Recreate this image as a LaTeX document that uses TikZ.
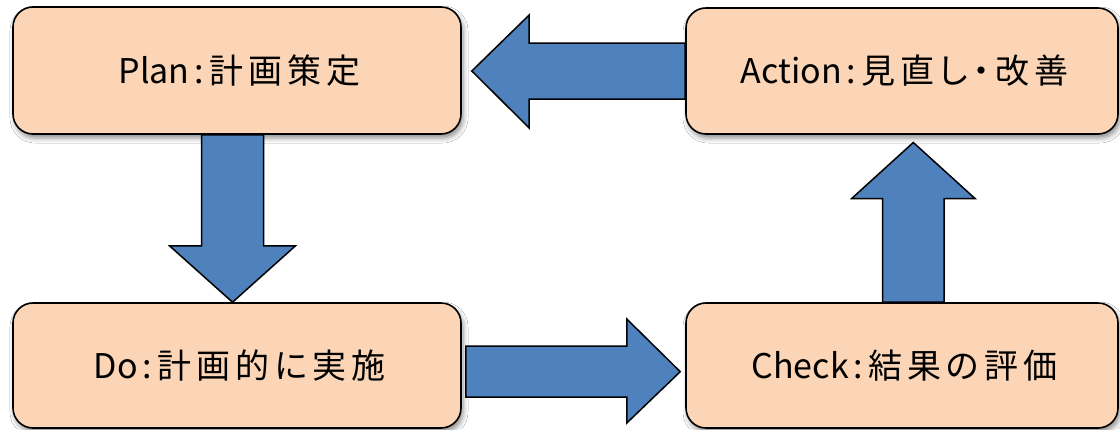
\documentclass[tikz,border=0pt]{standalone}
\usepackage{fontspec}
\setmainfont{Noto Sans CJK JP}
\newfontfamily\jp{Noto Sans CJK JP}[RawFeature=+palt, LetterSpace=15]
\usetikzlibrary{calc,shadows.blur}
\definecolor{boxfill}{HTML}{FBD5B5}
\definecolor{arrowfill}{HTML}{4F81BD}
\tikzset{
  stage/.style={draw=black, line width=1.6pt, fill=boxfill, rounded corners=20pt,
    inner sep=0pt, font=\fontsize{34}{40}\selectfont,
    blur shadow={shadow xshift=2pt, shadow yshift=-4pt, shadow blur radius=5pt, shadow opacity=45}},
  blockarrow/.style={draw=black, line width=1.5pt, fill=arrowfill, line join=miter}
}
\newcommand{\stagelabel}[2]{#1\kern5pt:\kern5pt{\jp #2}\kern-5pt}
\begin{document}
\begin{tikzpicture}[x=1pt,y=-1pt]
\fill[white] (0,0) rectangle (1120,429);
\useasboundingbox (0,0) rectangle (1120,429);

\node[stage, minimum width=448pt, minimum height=127pt] (plan) at (237,70.5) {\stagelabel{Plan}{計画策定}};
\node[stage, minimum width=432pt, minimum height=126pt] (action) at (902,71) {\stagelabel{Action}{見直し・改善}};
\node[stage, minimum width=448pt, minimum height=125pt] (do) at (237,365.5) {\stagelabel{Do}{計画的に実施}};
\node[stage, minimum width=432pt, minimum height=125pt] (check) at (902,365.5) {\stagelabel{Check}{結果の評価}};

% Action -> Plan
\draw[blockarrow] ($(action.west)+(0,-28)$) -- ($(action.west)+(-156,-28)$) -- ($(action.west)+(-156,-56)$)
  -- ($(plan.east)+(10,0.5)$) -- ($(action.west)+(-156,57)$) -- ($(action.west)+(-156,28)$)
  -- ($(action.west)+(0,28)$) -- cycle;
% Plan -> Do
\draw[blockarrow] ($(plan.south)+(-35.5,0)$) -- ($(plan.south)+(-35.5,111)$) -- ($(plan.south)+(-67.5,111)$)
  -- ($(do.north)+(-4.5,0)$) -- ($(plan.south)+(58.5,111)$) -- ($(plan.south)+(26.5,111)$)
  -- ($(plan.south)+(26.5,0)$) -- cycle;
% Do -> Check
\draw[blockarrow] ($(do.east)+(4,-19.5)$) -- ($(do.east)+(165,-19.5)$) -- ($(do.east)+(165,-46.5)$)
  -- ($(check.west)+(-5,6.2)$) -- ($(do.east)+(165,57.5)$) -- ($(do.east)+(165,31.5)$)
  -- ($(do.east)+(4,31.5)$) -- cycle;
% Check -> Action
\draw[blockarrow] ($(check.north)+(-19.3,0)$) -- ($(check.north)+(-19.3,-103.7)$) -- ($(check.north)+(-50.3,-103.7)$)
  -- ($(action.south)+(11.3,7.7)$) -- ($(check.north)+(73,-103.7)$) -- ($(check.north)+(42,-103.7)$)
  -- ($(check.north)+(42,0)$) -- cycle;
\end{tikzpicture}
\end{document}
